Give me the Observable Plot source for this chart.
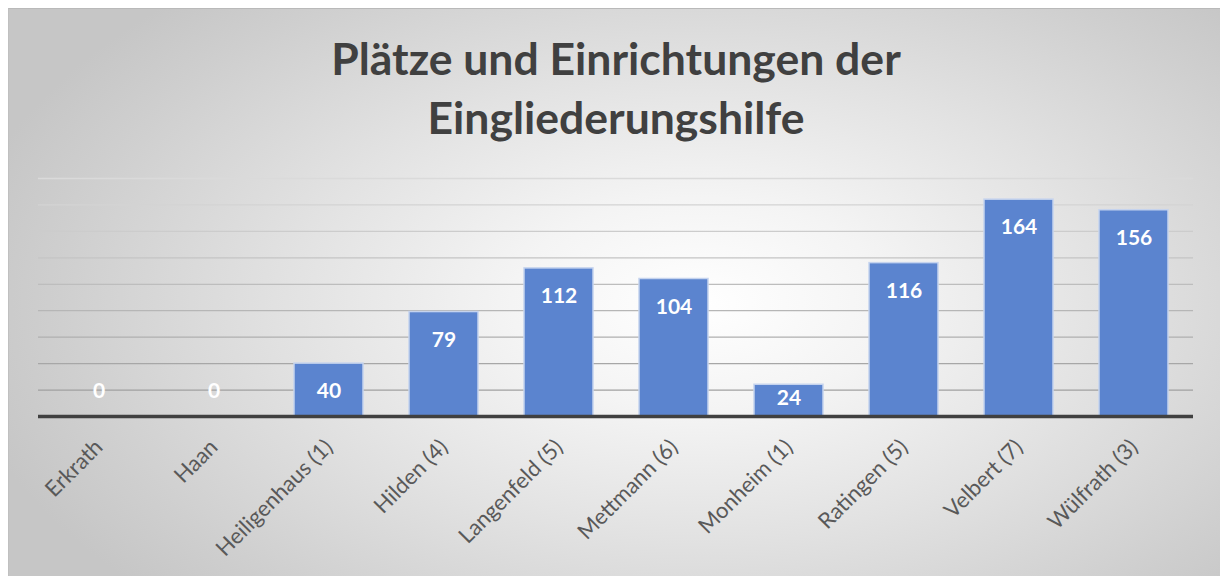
<!DOCTYPE html>
<html>
<head>
<meta charset="utf-8">
<script src="https://cdn.jsdelivr.net/npm/d3@7"></script>
<script src="https://cdn.jsdelivr.net/npm/@observablehq/plot@0.6"></script>
<style>
  html, body { margin: 0; padding: 0; background: #ffffff; }
  #wrap { position: relative; width: 1220px; height: 576px; overflow: hidden; font-family: Lato, "Open Sans", sans-serif; }
  #bg { position: absolute; left: 8px; top: 8px; right: 0; bottom: 0;
        background: radial-gradient(ellipse 62% 75% at 57% 52%, #ffffff 0%, #f4f4f4 25%, #e2e2e2 55%, #cfcfcf 85%, #c6c6c6 100%);
        border-top: 1px solid #b9b9b9; border-left: 1px solid #c0c0c0; }
  #title { position: absolute; left: 0; top: 0; width: 1220px; height: 150px; box-sizing: border-box; padding-left: 12px; padding-top: 28px;
           text-align: center; font-weight: 700; font-size: 44.5px; line-height: 59px; color: #404040; }
  #chart { position: absolute; left: 0; top: 150px; }
</style>
</head>
<body>
<div id="wrap">
  <div id="bg"></div>
  <div id="title">Plätze und Einrichtungen der<br>Eingliederungshilfe</div>
  <div id="chart"></div>
</div>
<script>
const categories = ["Erkrath", "Haan", "Heiligenhaus (1)", "Hilden (4)", "Langenfeld (5)", "Mettmann (6)", "Monheim (1)", "Ratingen (5)", "Velbert (7)", "Wülfrath (3)"];
const values = [0, 0, 40, 79, 112, 104, 24, 116, 164, 156];
const gridTicks = [20, 40, 60, 80, 100, 120, 140, 160, 180];

const data = categories.map((c, i) => ({category: c, value: values[i]}));
const gridColor = d3.scaleLinear().domain([20, 180]).range(["#a0a0a0", "#dadada"]);

const plot = Plot.plot({
  width: 1220,
  height: 426,
  marginLeft: 38,
  marginRight: 27,
  marginTop: 28,
  marginBottom: 160,
  style: {background: "transparent", fontFamily: "Lato, 'Open Sans', sans-serif", overflow: "visible"},
  x: {domain: categories, type: "band", paddingInner: 0.4, paddingOuter: 0.2, axis: null},
  y: {domain: [0, 180], axis: null},
  color: {type: "identity"},
  marks: [
    Plot.ruleY(gridTicks, {y: d => d, stroke: d => gridColor(d), strokeWidth: 1.3}),
    Plot.barY(data, {x: "category", y: "value", fill: "#5b84cf", stroke: "#c5d3ee", strokeWidth: 1.5}),
    Plot.ruleY([0], {stroke: "#404040", strokeWidth: 3.5}),
    Plot.text(data.filter(d => d.value >= 30), {x: "category", y: "value", text: d => String(d.value), dy: 28, fill: "#ffffff", fontWeight: 700, fontSize: 21}),
    Plot.text(data.filter(d => d.value > 0 && d.value < 30), {x: "category", y: "value", text: d => String(d.value), dy: 13, fill: "#ffffff", fontWeight: 700, fontSize: 21}),
    Plot.text(data.filter(d => d.value === 0), {x: "category", y: "value", text: d => String(d.value), dy: -25, fill: "#ffffff", fontWeight: 700, fontSize: 21}),
    Plot.text(categories, {x: d => d, frameAnchor: "bottom", text: d => d, rotate: -45, textAnchor: "end", lineAnchor: "top", dx: -6, dy: 21, fill: "#595959", fontSize: 22})
  ]
});
document.getElementById("chart").appendChild(plot);
</script>
</body>
</html>
